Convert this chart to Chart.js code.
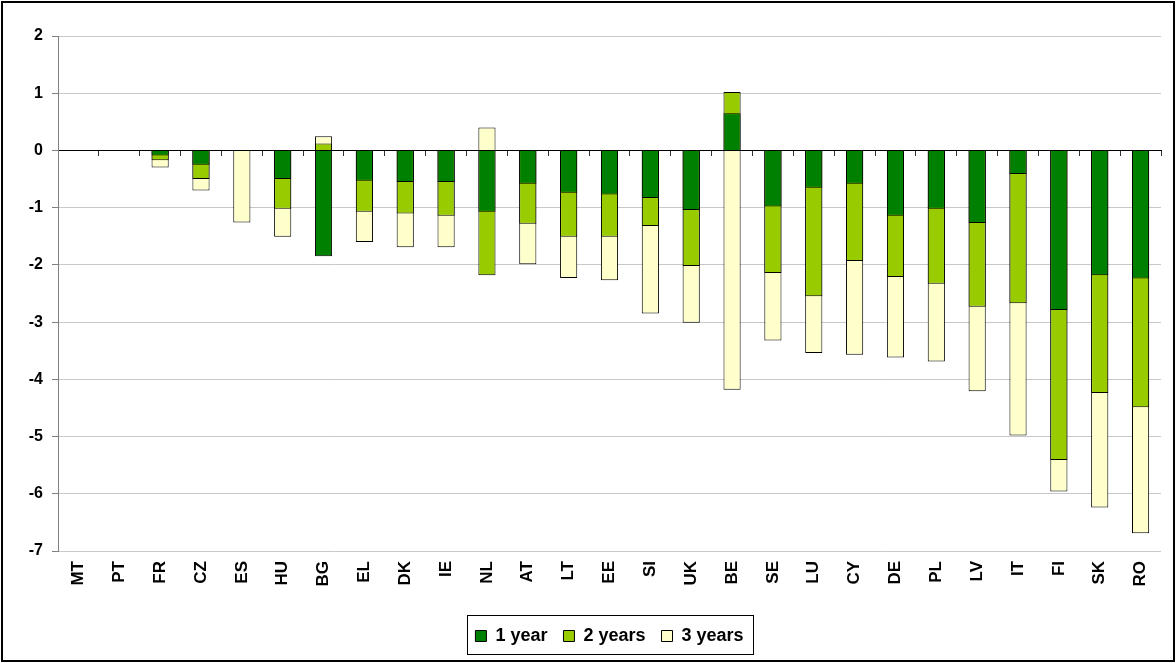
<!DOCTYPE html>
<html>
<head>
<meta charset="utf-8">
<script src="https://cdn.jsdelivr.net/npm/chart.js@4"></script>
<style>
  body { margin: 0; background: #fff; }
  #wrap { position: absolute; left: 0; top: 0; width: 1176px; height: 663px; }
  #frame { position: absolute; left: 1px; top: 1px; width: 1174px; height: 661px; box-sizing: border-box; border: 2px solid #000; pointer-events: none; }
</style>
</head>
<body>
<div id="wrap"><canvas id="chart1"></canvas></div>
<div id="frame"></div>
<script>
const countries = ['MT', 'PT', 'FR', 'CZ', 'ES', 'HU', 'BG', 'EL', 'DK', 'IE', 'NL', 'AT', 'LT', 'EE', 'SI', 'UK', 'BE', 'SE', 'LU', 'CY', 'DE', 'PL', 'LV', 'IT', 'FI', 'SK', 'RO']
const oneYear = [null, null, -0.09, -0.25, null, -0.50, -1.85, -0.53, -0.55, -0.55, -1.07, -0.58, -0.74, -0.77, -0.83, -1.04, 0.65, -0.98, -0.65, -0.58, -1.14, -1.02, -1.27, -0.41, -2.79, -2.18, -2.24]
const twoYears = [null, null, -0.17, -0.50, null, -1.02, 0.12, -1.07, -1.10, -1.14, -2.18, -1.28, -1.51, -1.51, -1.32, -2.02, 1.02, -2.14, -2.55, -1.93, -2.21, -2.33, -2.73, -2.67, -5.41, -4.24, -4.49]
const threeYears = [null, null, -0.30, -0.70, -1.26, -1.51, 0.25, -1.60, -1.69, -1.69, 0.40, -1.99, -2.23, -2.27, -2.85, -3.01, -4.18, -3.32, -3.54, -3.57, -3.62, -3.69, -4.21, -4.98, -5.96, -6.24, -6.69]
const seriesNames = ['1 year', '2 years', '3 years']
const yMin = -7
const yMax = 2

const font = '"Liberation Sans", Arial, sans-serif'

// legend centred under the plot area and boxed, like the excel one
const legendFrame = {
    id: 'legendFrame',
    afterLayout(chart) {
        const lg = chart.legend
        const ca = chart.chartArea
        const shift = (ca.left + ca.right) / 2 - (lg.left + lg.right) / 2
        lg.left += shift
        lg.right += shift
    },
    afterDraw(chart) {
        const boxes = chart.legend.legendHitBoxes
        if (!boxes || !boxes.length) return
        const left = Math.min(...boxes.map(b => b.left))
        const right = Math.max(...boxes.map(b => b.left + b.width))
        const top = boxes[0].top
        const ctx = chart.ctx
        ctx.save()
        ctx.strokeStyle = '#000'
        ctx.lineWidth = 1
        ctx.strokeRect(Math.round(left - 8) + 0.5, Math.round(top - 12) + 0.5, Math.round(right - left + 18), 39)
        ctx.restore()
    }
}

const chartData = {
    labels: countries,
    datasets: [
        { label: seriesNames[0], data: oneYear, backgroundColor: '#008000' },
        { label: seriesNames[1], data: twoYears, backgroundColor: '#99CC00' },
        { label: seriesNames[2], data: threeYears, backgroundColor: '#FFFFCC' }
    ].map(ds => Object.assign(ds, { borderColor: '#000', borderWidth: 1, barPercentage: 0.42, categoryPercentage: 1 }))
}

new Chart('chart1', {
    type: 'bar',
    data: chartData,
    plugins: [legendFrame],
    options: {
        responsive: true,
        maintainAspectRatio: false,
        animation: false,
        layout: { padding: { top: 36, right: 15, left: 8, bottom: 8 } },
        plugins: {
            tooltip: { enabled: false },
            legend: {
                position: 'bottom',
                labels: {
                    color: '#000',
                    boxWidth: 11,
                    boxHeight: 11,
                    padding: 16,
                    font: { family: font, size: 18, weight: 'bold' }
                }
            }
        },
        scales: {
            x: {
                stacked: true,
                grid: { display: false },
                border: { display: false },
                ticks: {
                    color: '#000',
                    minRotation: 90,
                    maxRotation: 90,
                    padding: 2,
                    font: { family: font, size: 17, weight: 'bold' }
                },
                afterFit: scale => { scale.height = 60 }
            },
            x2: {
                type: 'category',
                position: { y: 0 },
                offset: true,
                grid: { offset: true, drawOnChartArea: false, drawTicks: true, tickLength: 5, tickColor: '#333' },
                border: { color: '#000', width: 1 },
                ticks: { display: false }
            },
            y: {
                stacked: false,
                min: yMin,
                max: yMax,
                ticks: {
                    stepSize: 1,
                    color: '#000',
                    padding: 9,
                    font: { family: font, size: 16, weight: 'bold' }
                },
                grid: { color: '#c8c8c8', tickColor: '#808080', tickLength: 6 },
                border: { color: '#808080' },
                afterFit: scale => { scale.width = 50 }
            }
        }
    }
})
</script>
</body>
</html>
